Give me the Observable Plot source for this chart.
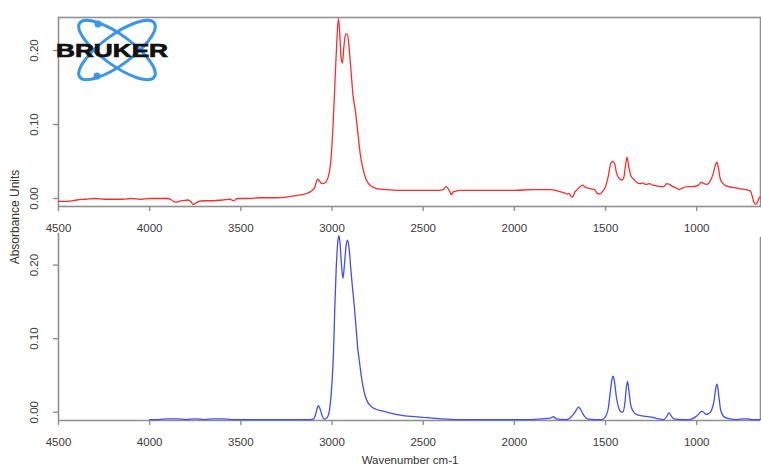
<!DOCTYPE html>
<html>
<head>
<meta charset="utf-8">
<script src="https://cdn.jsdelivr.net/npm/d3@7"></script>
<script src="https://cdn.jsdelivr.net/npm/@observablehq/plot@0.6"></script>
<style>
  html, body { margin: 0; padding: 0; background: #fff; }
  #wrap { position: relative; width: 761px; height: 466px; overflow: hidden; font-family: "Liberation Sans", Arial, sans-serif; }
  #top, #bottom { position: absolute; left: 0; }
  #top { top: 0; }
  #bottom { top: 233px; }
  #ylab { position: absolute; left: 15px; top: 217px; transform: translate(-50%, -50%) rotate(-90deg); font-size: 12px; color: #333; white-space: nowrap; }
  #xlab { position: absolute; left: 410px; top: 460px; transform: translate(-50%, -50%); font-size: 11.5px; color: #333; white-space: nowrap; }
  #logo { position: absolute; left: 0; top: 0; }
</style>
</head>
<body>
<div id="wrap">
  <div id="top"></div>
  <div id="bottom"></div>
  <div id="ylab">Absorbance Units</div>
  <div id="xlab">Wavenumber cm-1</div>
  <svg id="logo" width="200" height="100">
    <g transform="translate(117,50)" fill="none" stroke="#3b95e8" stroke-width="3">
      <ellipse rx="46" ry="15" transform="rotate(36)"></ellipse>
      <ellipse rx="46" ry="15" transform="rotate(-36)"></ellipse>
    </g>
    <circle cx="98" cy="24" r="3.5" fill="#3b95e8"></circle>
    <circle cx="97" cy="76" r="3.5" fill="#3b95e8"></circle>
    <text x="56" y="57" font-family="'Liberation Sans', Arial, sans-serif" font-weight="bold" font-size="19" textLength="112" lengthAdjust="spacingAndGlyphs" fill="#111" stroke="#111" stroke-width="0.7">BRUKER</text>
  </svg>
</div>
<script>
// ---- Data ----
const xTicks = [4500, 4000, 3500, 3000, 2500, 2000, 1500, 1000];
const yTicks = [0.0, 0.1, 0.2];

const wavenumberTop = [4500,4450,4400,4350,4300,4250,4200,4150,4100,4050,4000,3950,3900,3880,3860,3840,3820,3790,3775,3760,3745,3730,3700,3650,3600,3560,3540,3520,3500,3450,3400,3350,3300,3250,3200,3150,3120,3095,3080,3070,3055,3040,3020,3005,2995,2985,2975,2965,2958,2950,2943,2935,2925,2915,2905,2895,2885,2870,2858,2845,2830,2815,2800,2780,2750,2700,2650,2600,2500,2420,2390,2375,2365,2355,2345,2335,2320,2300,2200,2100,2000,1900,1800,1760,1730,1710,1700,1690,1680,1670,1655,1640,1625,1610,1595,1580,1560,1545,1530,1515,1500,1485,1470,1460,1450,1440,1425,1410,1400,1390,1382,1372,1360,1345,1330,1310,1295,1280,1260,1240,1220,1200,1180,1165,1150,1130,1110,1095,1080,1050,1020,990,975,960,945,925,910,895,888,880,870,855,840,800,760,730,705,695,685,675,665,655,650];
const absorbanceTop = [-0.004,-0.004,-0.002,-0.001,0.000,-0.001,-0.001,-0.001,0.000,-0.001,0.000,0.000,0.000,-0.002,-0.005,-0.004,-0.003,-0.002,-0.004,-0.008,-0.006,-0.004,-0.003,-0.003,-0.002,-0.001,-0.003,0.000,0.000,0.000,0.001,0.001,0.001,0.002,0.004,0.006,0.009,0.015,0.026,0.024,0.020,0.021,0.030,0.055,0.095,0.150,0.205,0.243,0.225,0.190,0.183,0.205,0.222,0.222,0.200,0.170,0.140,0.115,0.088,0.060,0.040,0.027,0.020,0.016,0.013,0.012,0.011,0.011,0.011,0.011,0.012,0.016,0.014,0.010,0.005,0.009,0.010,0.011,0.011,0.011,0.011,0.012,0.012,0.010,0.008,0.006,0.007,0.003,0.002,0.008,0.012,0.016,0.018,0.015,0.014,0.013,0.012,0.007,0.006,0.010,0.016,0.030,0.048,0.050,0.047,0.035,0.027,0.025,0.028,0.045,0.056,0.042,0.030,0.026,0.022,0.020,0.021,0.019,0.020,0.018,0.017,0.016,0.016,0.020,0.019,0.016,0.014,0.012,0.014,0.016,0.016,0.018,0.022,0.020,0.019,0.024,0.033,0.047,0.049,0.040,0.026,0.020,0.017,0.015,0.013,0.012,0.010,0.003,-0.006,-0.008,-0.004,0.002,0.001];

const wavenumberBottom = [4000,3950,3900,3850,3800,3750,3700,3650,3600,3550,3500,3400,3300,3200,3120,3100,3090,3080,3075,3065,3055,3045,3035,3020,3010,3000,2992,2985,2977,2968,2962,2956,2948,2940,2932,2922,2914,2906,2897,2888,2878,2868,2858,2850,2840,2830,2818,2805,2790,2760,2730,2700,2650,2600,2550,2500,2450,2400,2300,2200,2100,2000,1900,1850,1800,1785,1770,1720,1700,1680,1665,1648,1635,1620,1600,1560,1520,1500,1485,1475,1465,1458,1450,1440,1430,1418,1405,1395,1385,1379,1372,1362,1350,1330,1300,1270,1240,1210,1180,1165,1152,1140,1125,1080,1040,1010,990,975,962,948,935,920,905,895,888,880,870,860,845,820,780,740,720,700,660,650];
const absorbanceBottom = [-0.010,-0.010,-0.009,-0.009,-0.010,-0.009,-0.010,-0.009,-0.009,-0.010,-0.010,-0.010,-0.010,-0.010,-0.010,-0.009,-0.003,0.006,0.009,0.004,-0.004,-0.009,-0.009,-0.004,0.010,0.040,0.080,0.140,0.195,0.232,0.240,0.230,0.200,0.182,0.200,0.228,0.234,0.222,0.195,0.170,0.145,0.115,0.085,0.070,0.050,0.035,0.022,0.014,0.009,0.004,0.002,0.000,-0.003,-0.005,-0.006,-0.007,-0.008,-0.009,-0.010,-0.010,-0.010,-0.010,-0.010,-0.009,-0.008,-0.006,-0.009,-0.010,-0.009,-0.004,0.001,0.007,0.003,-0.004,-0.009,-0.010,-0.010,-0.006,0.005,0.025,0.044,0.049,0.040,0.020,0.008,0.001,0.000,0.010,0.035,0.042,0.030,0.010,0.002,-0.003,-0.005,-0.006,-0.007,-0.009,-0.010,-0.006,-0.001,-0.005,-0.009,-0.010,-0.010,-0.007,-0.003,0.001,0.000,-0.003,-0.002,0.002,0.015,0.033,0.038,0.025,0.005,-0.003,-0.007,-0.009,-0.010,-0.009,-0.009,-0.010,-0.010,-0.010];

const topData = wavenumberTop.map((w, i) => ({w, a: absorbanceTop[i]}));
const bottomData = wavenumberBottom.map((w, i) => ({w, a: absorbanceBottom[i]}));

const axisGray = "#8f8f8f";
const fmtY = d3.format(".2f");
const fmtX = d => String(d);
const style = {fontFamily: "'Liberation Sans', Arial, sans-serif", fontSize: "11.5px", color: "#3a3a3a", background: "transparent"};

const topYDomain = [-0.0108, 0.2446];
const topPlot = Plot.plot({
  width: 761, height: 235,
  marginTop: 17, marginBottom: 29, marginLeft: 58, marginRight: 1,
  style,
  x: {domain: [4500, 650]},
  y: {domain: topYDomain},
  marks: [
    Plot.frame({stroke: axisGray, strokeWidth: 1.6}),
    Plot.axisX({ticks: xTicks, tickFormat: fmtX, tickSize: 5, tickPadding: 12, stroke: axisGray, strokeWidth: 1.4, label: null}),
    Plot.axisY({ticks: yTicks, tickFormat: fmtY, tickSize: 5, tickPadding: 16, tickRotate: -90, stroke: axisGray, strokeWidth: 1.4, label: null}),
    Plot.line(topData, {x: "w", y: "a", stroke: "#ff2b2b", strokeWidth: 1.3, curve: "monotone-x"})
  ]
});
document.getElementById("top").appendChild(topPlot);

const botYDomain = [-0.0113, 0.243];
const bottomPlot = Plot.plot({
  width: 761, height: 233,
  marginTop: 0, marginBottom: 46, marginLeft: 58, marginRight: 1,
  style,
  x: {domain: [4500, 650]},
  y: {domain: botYDomain},
  marks: [
    Plot.ruleX([4500], {stroke: axisGray, strokeWidth: 1.6}),
    Plot.ruleY([botYDomain[0]], {stroke: axisGray, strokeWidth: 1.6}),
    Plot.ruleX([650], {y1: botYDomain[0], y2: 0.238, stroke: axisGray, strokeWidth: 1.6}),
    Plot.axisX({ticks: xTicks, tickFormat: fmtX, tickSize: 5, tickPadding: 12, stroke: axisGray, strokeWidth: 1.4, label: null}),
    Plot.axisY({ticks: yTicks, tickFormat: fmtY, tickSize: 5, tickPadding: 16, tickRotate: -90, stroke: axisGray, strokeWidth: 1.4, label: null}),
    Plot.line(bottomData, {x: "w", y: "a", stroke: "#3f4ff5", strokeWidth: 1.3, curve: "monotone-x"})
  ]
});
document.getElementById("bottom").appendChild(bottomPlot);
</script>
</body>
</html>
